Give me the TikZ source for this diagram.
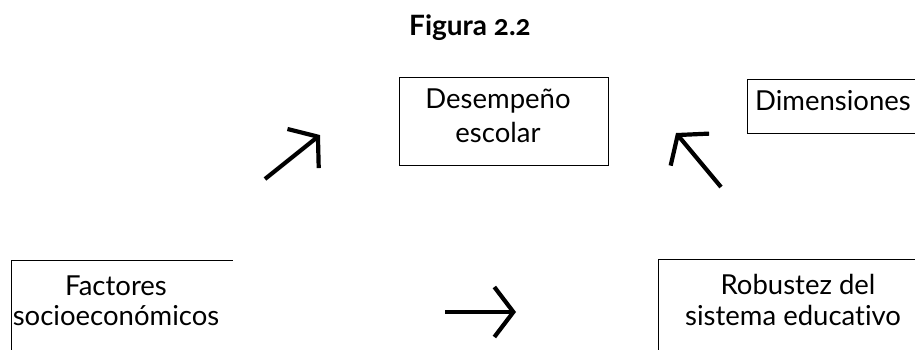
\documentclass[tikz,border=0pt]{standalone}
\usepackage{fontspec}
\setmainfont{Lato}[RawFeature=-liga]
\usetikzlibrary{arrows.meta}
\begin{document}
\begin{tikzpicture}[x=1pt,y=-1pt,
  boxline/.style={line width=1pt, line cap=rect},
  lbl/.style={font=\fontsize{27.5}{32}\selectfont, anchor=base, inner sep=0pt},
  titlelbl/.style={font=\fontsize{28}{32}\selectfont\bfseries\addfontfeatures{Numbers=OldStyle}, anchor=base, inner sep=0pt},
  bigarrow/.style={line width=4.2pt, -{Straight Barb[length=19pt,width=50pt]}}]
\useasboundingbox (0,0) rectangle (915,349);
\fill[white] (0,0) rectangle (915,349);

% title
\node[titlelbl] (title) at (470,35) {Figura 2.2};

% Desempeño escolar (full box)
\node[draw, boxline, minimum width=209pt, minimum height=88pt, inner sep=0pt] (desbox) at (503.5,121) {};
\node[lbl] (des1) at (498,108) {Desempeño};
\node[lbl] (des2) at (498,142) {escolar};

% Dimensiones (cut at right edge)
\coordinate (dimA) at (915,79);
\coordinate (dimB) at (747,79);
\coordinate (dimC) at (747,133);
\coordinate (dimD) at (915,133);
\draw[boxline] (dimA) -- (dimB) -- (dimC) -- (dimD);
\node[lbl, anchor=base west] (dim) at (755,110) {Dimensiones};

% Factores socioeconómicos (cut)
\coordinate (facA) at (232,260);
\coordinate (facB) at (11,260);
\coordinate (facC) at (11,349);
\draw[boxline] (facA) -- (facB) -- (facC);
\node[lbl] (fac1) at (116,295) {Factores};
\node[lbl] (fac2) at (116,325) {socioeconómicos};

% Robustez del sistema educativo (cut)
\coordinate (robA) at (915,259);
\coordinate (robB) at (658,259);
\coordinate (robC) at (658,349);
\draw[boxline] (robA) -- (robB) -- (robC);
\node[lbl] (rob1) at (798,294) {Robustez del};
\node[lbl, anchor=base west] (rob2) at (685,325) {sistema educativo};

% arrows
\coordinate (a1s) at (265,179);
\coordinate (a1e) at (320,135);
\coordinate (a2s) at (721,187);
\coordinate (a2e) at (676,133);
\coordinate (a3s) at (445,312);
\coordinate (a3e) at (516,312);
\draw[bigarrow] (a1s) -- (a1e);
\draw[bigarrow] (a2s) -- (a2e);
\draw[bigarrow] (a3s) -- (a3e);
\end{tikzpicture}
\end{document}
